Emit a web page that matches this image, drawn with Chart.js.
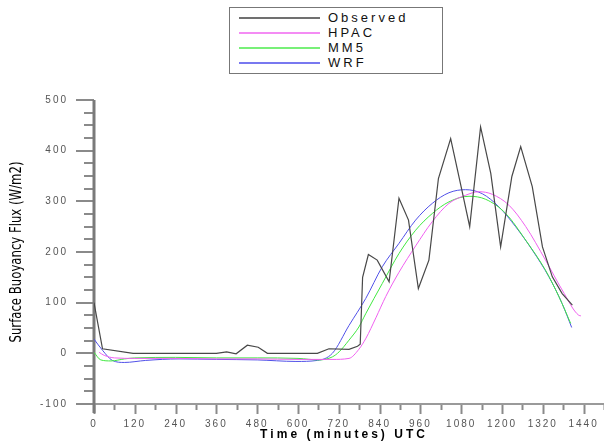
<!DOCTYPE html>
<html>
<head>
<meta charset="utf-8">
<script src="https://cdn.jsdelivr.net/npm/chart.js@4/dist/chart.umd.min.js"></script>
<style>
    html, body { margin: 0; padding: 0; background: #fff; }
    #wrap { position: relative; width: 604px; height: 443px; overflow: hidden; }
    #legend {
        position: absolute; left: 229px; top: 7px; width: 212px; height: 65px;
        border: 1px solid #777; background: #fff;
        font-family: "Liberation Sans", Arial, sans-serif; font-size: 13px; color: #111;
    }
    .row { position: absolute; left: 0; height: 15px; width: 100%; }
    .row .ln { position: absolute; left: 9px; top: 6px; width: 81px; height: 2px; }
    .row .tx { position: absolute; left: 98px; top: -1px; letter-spacing: 3px; line-height: 15px; }
</style>
</head>
<body>
<div id="wrap">
    <canvas id="chart" width="604" height="443"></canvas>
    <div id="legend"></div>
</div>
<script>
// 時間軸（分鐘，UTC）與各系列通量值
const xTickLabels = [0, 120, 240, 360, 480, 600, 720, 840, 960, 1080, 1200, 1320, 1440];
const yTickLabels = [-100, 0, 100, 200, 300, 400, 500];

const obsTime = [0, 25, 115, 240, 360, 390, 418, 451, 483, 510, 600, 657, 691, 750, 775, 783, 790, 807, 833, 868, 897, 925, 954, 985, 1013, 1049, 1081, 1105, 1137, 1167, 1196, 1229, 1255, 1289, 1319, 1348, 1377, 1407];
const obsFlux = [100, 9, 0, 0, 0, 3, -1, 16, 12, 0, 0, 0, 9, 8, 14, 18, 150, 195, 184, 141, 306, 263, 128, 184, 345, 424, 325, 250, 447, 355, 210, 349, 408, 329, 210, 151, 118, 95];

const hpacTime = [15, 30, 60, 120, 240, 360, 480, 600, 700, 750, 779, 800, 829, 858, 897, 946, 995, 1044, 1093, 1132, 1171, 1221, 1270, 1328, 1377, 1426, 1432];
const hpacFlux = [2, -4, -9, -10, -10, -11, -11, -12, -12, -10, 8, 30, 70, 112, 160, 212, 260, 296, 312, 319, 314, 292, 250, 184, 125, 75, 74];

const mm5Time = [0, 20, 50, 90, 120, 240, 360, 480, 600, 662, 701, 721, 750, 779, 799, 848, 897, 946, 995, 1044, 1103, 1152, 1211, 1270, 1328, 1368, 1402];
const mm5Flux = [2, -13, -15, -11, -9, -8, -9, -9, -10, -13, -7, 3, 26, 52, 78, 138, 197, 243, 276, 299, 310, 304, 276, 223, 164, 111, 59];

const wrfTime = [0, 25, 54, 89, 152, 250, 360, 480, 594, 657, 701, 750, 799, 848, 897, 946, 995, 1044, 1093, 1142, 1191, 1240, 1289, 1338, 1377, 1405];
const wrfFlux = [28, 6, -14, -18, -14, -11, -12, -13, -16, -14, 0, 55, 108, 171, 217, 263, 296, 317, 323, 315, 289, 250, 204, 151, 98, 51];

const seriesNames = ["Observed", "HPAC", "MM5", "WRF"];
const seriesColors = ["#484848", "#f060f0", "#40e840", "#5050e8"];
const legendColors = ["#707070", "#f48cf4", "#78f078", "#7878f0"];

function toPoints(ts, vs) {
    return ts.map((t, i) => ({ x: t, y: vs[i] }));
}

// 圖例（HTML）
const legendBox = document.getElementById('legend');
seriesNames.forEach((name, i) => {
    const row = document.createElement('div');
    row.className = 'row';
    row.style.top = (3 + i * 15) + 'px';
    row.innerHTML = `<div class="ln" style="background:${legendColors[i]}"></div><div class="tx">${name}</div>`;
    legendBox.appendChild(row);
});

// 座標軸、刻度與標題
const axisPlugin = {
    id: 'axisDecor',
    beforeDraw(chart) {
        chart.ctx.letterSpacing = '2px';
    },
    beforeDatasetsDraw(chart) {
        const ctx = chart.ctx;
        const xs = chart.scales.x, ys = chart.scales.y;
        const area = chart.chartArea;
        ctx.save();
        ctx.strokeStyle = '#8a8a8a';
        ctx.lineWidth = 2;
        for (let v = -100; v <= 500; v += 25) {
            const py = Math.round(ys.getPixelForValue(v));
            const major = v % 100 === 0;
            ctx.beginPath();
            ctx.moveTo(major ? 76 : 84, py);
            ctx.lineTo(area.left, py);
            ctx.stroke();
        }
        for (let t = 0; t <= 1500; t += 60) {
            const px = Math.round(xs.getPixelForValue(t)) + 0.5;
            const major = t % 120 === 0;
            ctx.beginPath();
            ctx.moveTo(px, area.bottom);
            ctx.lineTo(px, area.bottom + (major ? 10 : 6));
            ctx.stroke();
        }
        // x 軸
        ctx.strokeStyle = '#9a9a9a';
        ctx.lineWidth = 2;
        ctx.beginPath();
        ctx.moveTo(area.left, area.bottom);
        ctx.lineTo(chart.width, area.bottom);
        ctx.stroke();
        // y 軸
        ctx.strokeStyle = '#7a7a7a';
        ctx.lineWidth = 3;
        ctx.beginPath();
        ctx.moveTo(area.left, area.top);
        ctx.lineTo(area.left, area.bottom + 9);
        ctx.stroke();
        ctx.restore();
    },
    afterDraw(chart) {
        const ctx = chart.ctx;
        ctx.save();
        ctx.letterSpacing = '0px';
        ctx.fillStyle = '#000';
        ctx.textBaseline = 'middle';
        // y 標題（窄字體，縮放到原圖長度）
        const yTitle = 'Surface Buoyancy Flux (W/m2)';
        ctx.font = '15px "Liberation Sans Narrow", "DejaVu Sans Condensed", sans-serif';
        const w = ctx.measureText(yTitle).width;
        ctx.translate(17, 252);
        ctx.rotate(-Math.PI / 2);
        ctx.scale(181 / w, 1);
        ctx.textAlign = 'center';
        ctx.fillText(yTitle, 0, 0);
        ctx.restore();

        // x 標題（粗體、字距加寬）
        ctx.save();
        ctx.letterSpacing = '0px';
        ctx.fillStyle = '#000';
        ctx.textBaseline = 'middle';
        ctx.textAlign = 'left';
        ctx.font = 'bold 12px "Liberation Sans", Arial, sans-serif';
        const xTitle = 'Time (minutes) UTC';
        const chars = xTitle.split('');
        const natural = chars.reduce((s, c) => s + ctx.measureText(c).width, 0);
        const gap = (165 - natural) / (chars.length - 1);
        let cx = 260;
        chars.forEach(c => {
            ctx.fillText(c, cx, 435);
            cx += ctx.measureText(c).width + gap;
        });
        ctx.restore();
    }
};

new Chart(document.getElementById('chart'), {
    type: 'line',
    data: {
        datasets: [
            { label: seriesNames[0], data: toPoints(obsTime, obsFlux), borderColor: seriesColors[0], borderWidth: 1.2, tension: 0 },
            { label: seriesNames[1], data: toPoints(hpacTime, hpacFlux), borderColor: seriesColors[1], borderWidth: 1, tension: 0.4, cubicInterpolationMode: 'monotone' },
            { label: seriesNames[2], data: toPoints(mm5Time, mm5Flux), borderColor: seriesColors[2], borderWidth: 1, tension: 0.4, cubicInterpolationMode: 'monotone' },
            { label: seriesNames[3], data: toPoints(wrfTime, wrfFlux), borderColor: seriesColors[3], borderWidth: 1, tension: 0.4, cubicInterpolationMode: 'monotone' }
        ]
    },
    options: {
        responsive: false,
        animation: false,
        layout: { padding: { top: 100, right: 0, left: 0, bottom: 0 } },
        elements: { point: { radius: 0 } },
        plugins: { legend: { display: false }, tooltip: { enabled: false } },
        scales: {
            x: {
                type: 'linear',
                min: 0,
                max: 1500,
                grid: { display: false },
                border: { display: false },
                afterFit: s => { s.height = 39; },
                afterBuildTicks: s => { s.ticks = xTickLabels.map(v => ({ value: v })); },
                ticks: {
                    padding: 6,
                    color: '#555',
                    font: { family: '"Liberation Sans", Arial, sans-serif', size: 10 },
                    maxRotation: 0,
                    autoSkip: false,
                    callback: v => String(v)
                }
            },
            y: {
                min: -100,
                max: 500,
                grid: { display: false },
                border: { display: false },
                afterFit: s => { s.width = 94; },
                afterBuildTicks: s => { s.ticks = yTickLabels.map(v => ({ value: v })); },
                ticks: {
                    padding: 18,
                    color: '#555',
                    font: { family: '"Liberation Sans", Arial, sans-serif', size: 10 },
                    callback: v => String(v)
                }
            }
        }
    },
    plugins: [axisPlugin]
});
</script>
</body>
</html>
